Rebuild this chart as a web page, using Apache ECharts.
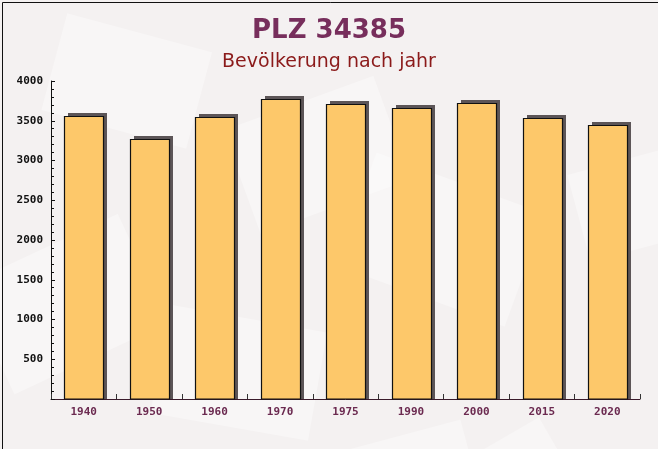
<!DOCTYPE html>
<html><head><meta charset="utf-8">
<script src="https://cdn.jsdelivr.net/npm/echarts@6/dist/echarts.min.js"></script>
<style>html,body{margin:0;padding:0;background:#fff}#c{width:658px;height:449px}</style>
</head><body><div id="c"></div>
<script>
const categories = ['1940','1950','1960','1970','1975','1990','2000','2015','2020'];
const population = [3560, 3268, 3545, 3770, 3707, 3656, 3720, 3535, 3443];
const yTicks = [0, 500, 1000, 1500, 2000, 2500, 3000, 3500, 4000];
const titleText = 'PLZ 34385';
const subtitleText = 'Bevölkerung nach jahr';

const chart = echarts.init(document.getElementById('c'), null, {renderer:'canvas'});
const env = [];
const shapes = [
  [40,40,150,100,-15],[230,20,160,110,20],[420,30,170,110,-25],[560,10,140,90,15],
  [60,200,170,120,25],[250,250,180,120,-20],[450,200,170,120,30],[100,330,160,110,-10],
  [380,330,170,110,15],[560,300,140,110,-30]
];
shapes.forEach(s=>env.push({type:'rect',x:s[0],y:s[1],rotation:s[4]*Math.PI/180,originX:s[0]+s[2]/2,originY:s[1]+s[3]/2,
  shape:{width:s[2],height:s[3]},style:{fill:'rgba(255,255,255,0.35)'},silent:true,z:-10}));
env.push({type:'rect',left:0,top:0,shape:{x:0.5,y:0.5,width:657,height:448},style:{fill:'none',stroke:'#111',lineWidth:1},z:100,silent:true});

chart.setOption({
  backgroundColor:'#f4f1f1',
  graphic: env,
  title:[
    {text:titleText,left:'center',top:13,textStyle:{fontFamily:'DejaVu Sans',fontWeight:'bold',fontSize:26,color:'#772e5c'}},
    {text:subtitleText,left:'center',top:48,textStyle:{fontFamily:'DejaVu Sans',fontWeight:'normal',fontSize:19,color:'#8b1a1a'}}
  ],
  grid:{left:51,right:18,top:81,bottom:50,containLabel:false},
  xAxis:{type:'category',data:categories,
    axisLine:{lineStyle:{color:'#3a1a2a',width:1}},
    axisTick:{show:true,inside:true,length:5,alignWithLabel:false,lineStyle:{color:'#333'}},
    axisLabel:{margin:8,fontFamily:'DejaVu Sans Mono',fontWeight:'bold',fontSize:11,color:'#6b2a50'}},
  yAxis:{type:'value',min:yTicks[0],max:yTicks[yTicks.length-1],interval:500,
    axisLine:{show:true,lineStyle:{color:'#111'}},
    axisTick:{show:true,inside:true,length:4,lineStyle:{color:'#111'}},
    minorTick:{show:true,splitNumber:5,length:3,lineStyle:{color:'#111'}},
    splitLine:{show:false},
    axisLabel:{margin:8,showMinLabel:false,formatter:v=>String(v),fontFamily:'DejaVu Sans Mono',fontWeight:'bold',fontSize:11,color:'#111'}},
  series:[{type:'custom',data:population.map((v,i)=>[i,v]),
    encode:{x:0,y:1},
    renderItem:function(params,api){
      const top = api.coord([api.value(0), api.value(1)]);
      const base = api.coord([api.value(0), 0]);
      const w = api.size([1,0])[0]*0.59;
      const x0 = Math.round(top[0]-w/2)+0.5;
      const y0 = Math.round(top[1])+0.5;
      const ww = Math.round(w);
      return {type:'group',children:[
        {type:'rect',shape:{x:x0+3.5,y:y0-3.5,width:ww,height:base[1]-y0+3.5},style:{fill:'#5c5557'}},
        {type:'rect',shape:{x:x0,y:y0,width:ww,height:base[1]-y0},style:{fill:'#fdc86a',stroke:'#111',lineWidth:1.2}}
      ]};
    }}]
});
</script></body></html>
